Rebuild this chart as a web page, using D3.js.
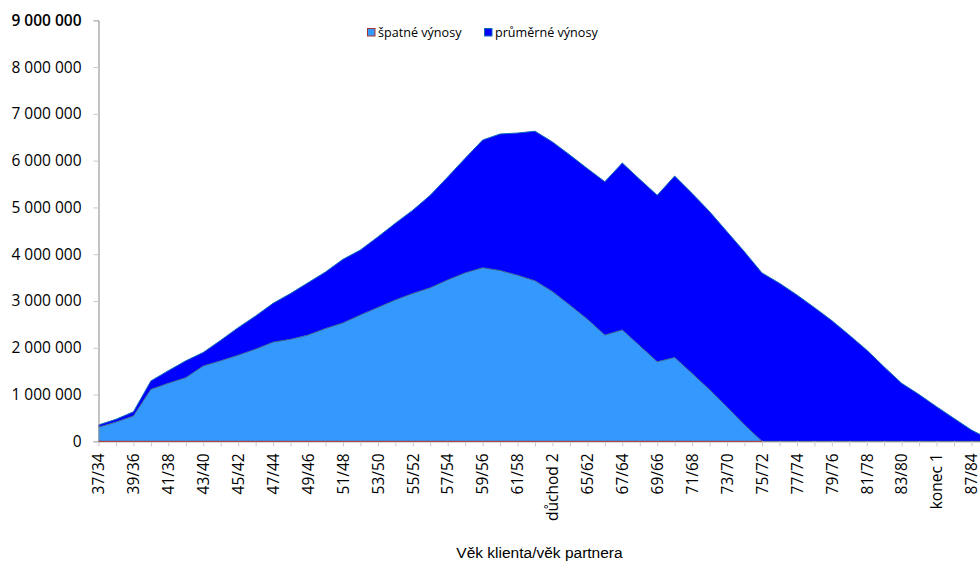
<!DOCTYPE html>
<html lang="cs">
<head>
<meta charset="utf-8">
<title>Výnosy podle věku</title>
<script src="https://cdn.jsdelivr.net/npm/d3@7/dist/d3.min.js"></script>
<style>
  html, body { margin: 0; padding: 0; background: #fff; }
  svg { display: block; }
  .tick text { fill: #000; }
</style>
</head>
<body>
<svg id="chart" width="980" height="563"></svg>
<script>
// Category labels: client age / partner age
const categories = [
  "37/34","38/35","39/36","40/37","41/38","42/39","43/40","44/41","45/42","46/43",
  "47/44","48/45","49/46","50/47","51/48","52/49","53/50","54/51","55/52","56/53",
  "57/54","58/55","59/56","60/57","61/58","62/59","důchod 2","64/61","65/62","66/63",
  "67/64","68/65","69/66","70/67","71/68","72/69","73/70","74/71","75/72","76/73",
  "77/74","78/75","79/76","80/77","81/78","82/79","83/80","84/81","konec 1","86/83",
  "87/84","88/85"
];

// Series names (legend order)
const seriesNames = ["špatné výnosy", "průměrné výnosy"];

// Bottom layer: poor returns
const spatneVynosy = [
  300000, 410000, 540000, 1110000, 1240000, 1360000, 1610000, 1720000, 1840000, 1970000,
  2120000, 2180000, 2270000, 2410000, 2530000, 2700000, 2860000, 3020000, 3160000, 3280000,
  3450000, 3600000, 3710000, 3650000, 3550000, 3430000, 3200000, 2910000, 2610000, 2270000,
  2380000, 2040000, 1700000, 1790000, 1450000, 1100000, 730000, 350000, 0, 0,
  0, 0, 0, 0, 0, 0, 0, 0, 0, 0,
  0, 0
];

// Top layer: average returns (stacked on top of the poor-return layer)
const prumerneVynosy = [
  50000, 60000, 90000, 180000, 270000, 360000, 290000, 440000, 590000, 710000,
  830000, 980000, 1120000, 1210000, 1360000, 1390000, 1510000, 1640000, 1780000, 1980000,
  2200000, 2450000, 2730000, 2920000, 3040000, 3200000, 3200000, 3210000, 3220000, 3280000,
  3570000, 3560000, 3560000, 3880000, 3850000, 3810000, 3750000, 3700000, 3600000, 3380000,
  3130000, 2860000, 2580000, 2270000, 1950000, 1590000, 1240000, 1000000, 740000, 490000,
  240000, 50000
];

// Value axis ticks
const yTicks = [0, 1000000, 2000000, 3000000, 4000000, 5000000, 6000000, 7000000, 8000000, 9000000];

const xTitle = "Věk klienta/věk partnera";

const colors = {
  spatne: "#3399ff",
  prumerne: "#0000ff",
  spatneEdge: "#3d6a95",
  prumerneEdge: "#0d6cb5",
  spatneBase: "#a8332e",
  axis: "#868686",
  tick: "#c8c8c8"
};

const svg = d3.select("#chart");
const plotLeft = 98.5, plotTop = 20.3, plotBottom = 441.3, step = 17.46;

const x = d3.scalePoint()
  .domain(categories)
  .range([plotLeft, plotLeft + step * (categories.length - 1)]);

const y = d3.scaleLinear()
  .domain([0, 9000000])
  .range([plotBottom, plotTop]);

const rows = categories.map((c, i) => ({
  cat: c,
  spatne: spatneVynosy[i],
  prumerne: prumerneVynosy[i]
}));

const stacked = d3.stack().keys(["spatne", "prumerne"])(rows);

const area = d3.area()
  .x(d => x(d.data.cat))
  .y0(d => y(d[0]))
  .y1(d => y(d[1]));

const topLine = d3.line()
  .x(d => x(d.data.cat))
  .y(d => y(d[1]));

// Filled layers
svg.append("g").selectAll("path")
  .data(stacked)
  .join("path")
  .attr("d", area)
  .attr("fill", d => colors[d.key]);

// Layer outlines
svg.append("path")
  .datum(stacked[1])
  .attr("d", topLine)
  .attr("fill", "none")
  .attr("stroke", colors.prumerneEdge)
  .attr("stroke-width", 1);

svg.append("path")
  .datum(stacked[0])
  .attr("d", topLine)
  .attr("fill", "none")
  .attr("stroke", colors.spatneEdge)
  .attr("stroke-width", 1);

// Y axis
const fmt = d3.formatLocale({ thousands: " ", grouping: [3], decimal: ",", currency: ["", ""] }).format(",");

const yAxis = svg.append("g")
  .attr("transform", `translate(${plotLeft},0)`)
  .call(d3.axisLeft(y).tickValues(yTicks).tickSize(5).tickPadding(12).tickFormat(fmt));
yAxis.select(".domain").attr("stroke", colors.axis);
yAxis.selectAll(".tick line").attr("stroke", colors.tick);
yAxis.selectAll(".tick text")
  .style("font-family", "'Open Sans', sans-serif")
  .style("font-size", "15.5px")
  .style("font-weight", d => d === 9000000 ? 600 : 400);

// X axis
const xAxis = svg.append("g")
  .attr("transform", `translate(0,${plotBottom})`)
  .call(d3.axisBottom(x).tickSize(5).tickSizeOuter(0)
    .tickFormat((d, i) => i % 2 === 0 ? d : ""));
xAxis.select(".domain").attr("stroke", colors.axis);
xAxis.selectAll(".tick line").attr("stroke", colors.tick);
xAxis.selectAll(".tick text")
  .attr("transform", "rotate(-90)")
  .attr("x", -12)
  .attr("y", 0)
  .attr("dy", "0.34em")
  .style("text-anchor", "end")
  .style("font-family", "'Open Sans', sans-serif")
  .style("font-size", "15.5px");

// Baseline edge of the poor-return layer
const lastPositive = d3.max(spatneVynosy.map((v, i) => v > 0 ? i : -1));
svg.append("path")
  .datum(stacked[0].slice(0, lastPositive + 2))
  .attr("d", d3.line().x(d => x(d.data.cat)).y(d => y(d[0])))
  .attr("fill", "none")
  .attr("stroke", colors.spatneBase)
  .attr("stroke-width", 1);

// Axis title
svg.append("text")
  .attr("x", 539.5)
  .attr("y", 558)
  .attr("text-anchor", "middle")
  .style("font-family", "'Liberation Sans', Arial, sans-serif")
  .style("font-size", "15.5px")
  .text(xTitle);

// Legend
const legend = svg.append("g").style("font-family", "'Open Sans', sans-serif").style("font-size", "12.6px");
const legendItems = [
  { name: seriesNames[0], fill: colors.spatne, stroke: colors.spatneBase, x: 367 },
  { name: seriesNames[1], fill: colors.prumerne, stroke: colors.prumerneEdge, x: 484 }
];
const li = legend.selectAll("g").data(legendItems).join("g")
  .attr("transform", d => `translate(${d.x},28)`);
li.append("rect")
  .attr("x", 0.5).attr("y", 0.5)
  .attr("width", 7.5).attr("height", 7.5)
  .attr("fill", d => d.fill)
  .attr("stroke", d => d.stroke)
  .attr("stroke-width", 1);
li.append("text")
  .attr("x", 11)
  .attr("y", 8.5)
  .text(d => d.name);
</script>
</body>
</html>
